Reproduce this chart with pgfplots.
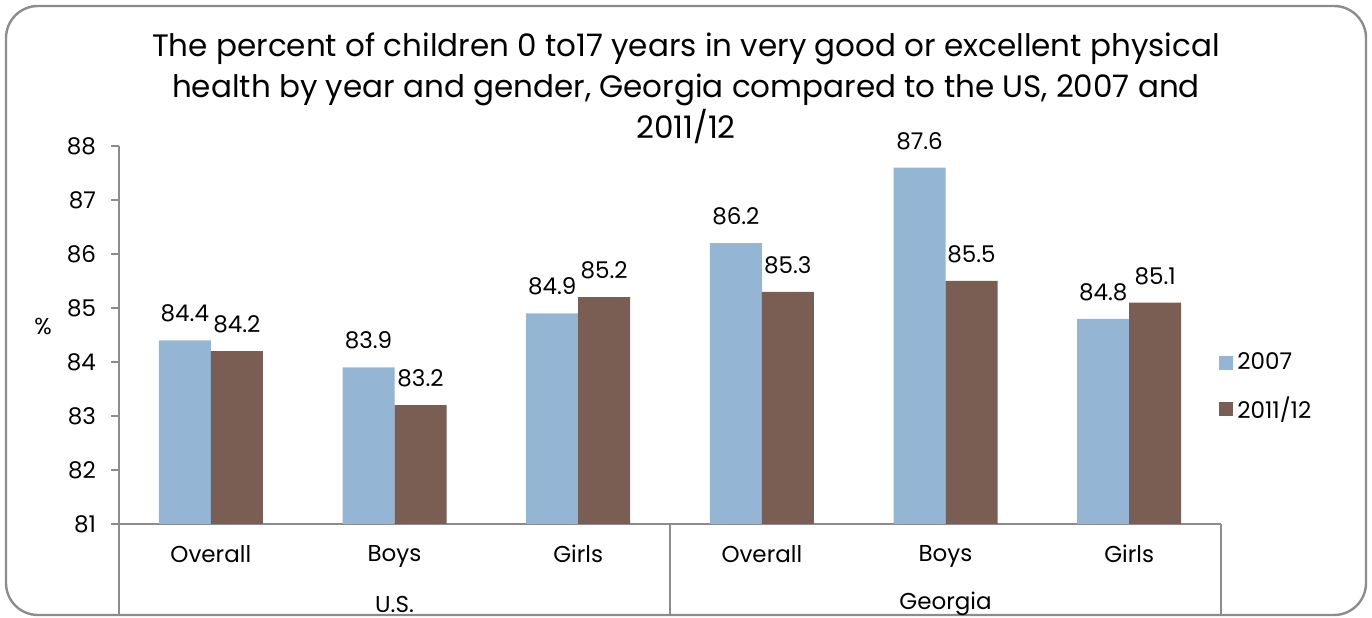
\documentclass[border=0pt]{standalone}
\usepackage{pgfplots}
\pgfplotsset{compat=1.18}
\usepackage{fontspec}
\setmainfont{Poppins}
\definecolor{cblue}{RGB}{148,181,211}
\definecolor{cbrown}{RGB}{122,93,83}
\definecolor{cgray}{RGB}{140,140,140}
\begin{document}
\begin{tikzpicture}[x=0.5bp,y=0.5bp]
\path[use as bounding box] (0,0) rectangle (1372,618);
\draw[cgray,line width=1.2bp,rounded corners=16bp] (6,3) rectangle (1366,612);
\begin{axis}[
  at={(59.5bp,47bp)}, anchor=south west,
  scale only axis, width=551bp, height=189bp,
  clip=false,
  ybar=0pt, bar width=26bp,
  xmin=-0.5, xmax=5.5, ymin=81, ymax=88,
  ytick={81,...,88},
  xtick={0,...,5},
  xticklabels={Overall,Boys,Girls,Overall,Boys,Girls},
  axis x line=bottom, axis y line=left,
  axis line style={cgray,line width=0.8bp,-},
  x axis line style={shorten <=-3bp},
  xtick style={draw=none},
  ytick style={cgray,line width=0.8bp},
  tick align=outside, major tick length=4bp,
  /pgf/number format/assume math mode=true,
  /pgf/number format/fixed,
  tick label style={font=\fontsize{11.5bp}{13bp}\selectfont,text=black},
  yticklabel style={xshift=-4bp},
  xticklabel style={yshift=-3bp},
  nodes near coords,
  nodes near coords style={font=\fontsize{11.5bp}{13bp}\selectfont,text=black,yshift=5.5bp,/pgf/number format/fixed,/pgf/number format/precision=1,/pgf/number format/fixed zerofill,/pgf/number format/assume math mode=true},
  legend style={at={(1.0,0.475)},anchor=north west,draw=none,fill=none,
    font=\fontsize{11.5bp}{13bp}\selectfont,row sep=8bp,xshift=-4bp},
  legend cell align=left,
  legend image code/.code={\fill[#1] (0bp,-3.5bp) rectangle (7bp,3.5bp);},
]
\addplot[fill=cblue,draw=none] coordinates {(0,84.4) (1,83.9) (2,84.9) (3,86.2) (4,87.6) (5,84.8)};
\addplot[fill=cbrown,draw=none] coordinates {(0,84.2) (1,83.2) (2,85.2) (3,85.3) (4,85.5) (5,85.1)};
\legend{2007,2011/12}
\draw[cgray,line width=0.8bp] (rel axis cs:0,0) -- (rel axis cs:0,-0.2407);
\draw[cgray,line width=0.8bp] (rel axis cs:0.5,0) -- (rel axis cs:0.5,-0.2407);
\draw[cgray,line width=0.8bp] (rel axis cs:1,0) -- (rel axis cs:1,-0.2407);
\node[font=\fontsize{11.5bp}{13bp}\selectfont,inner sep=0pt] at (rel axis cs:0.25,-0.212) {U.S.};
\node[font=\fontsize{11.5bp}{13bp}\selectfont,inner sep=0pt] at (rel axis cs:0.75,-0.212) {Georgia};
\end{axis}
\node[font=\fontsize{11.5bp}{13bp}\selectfont] at (43,292) {\%};
\node[font=\fontsize{15.5bp}{20.5bp}\selectfont,align=center] at (686,530)
 {The percent of children 0 to17 years in very good or excellent physical\\health by year and gender, Georgia compared to the US, 2007 and\\2011/12};
\end{tikzpicture}
\end{document}
